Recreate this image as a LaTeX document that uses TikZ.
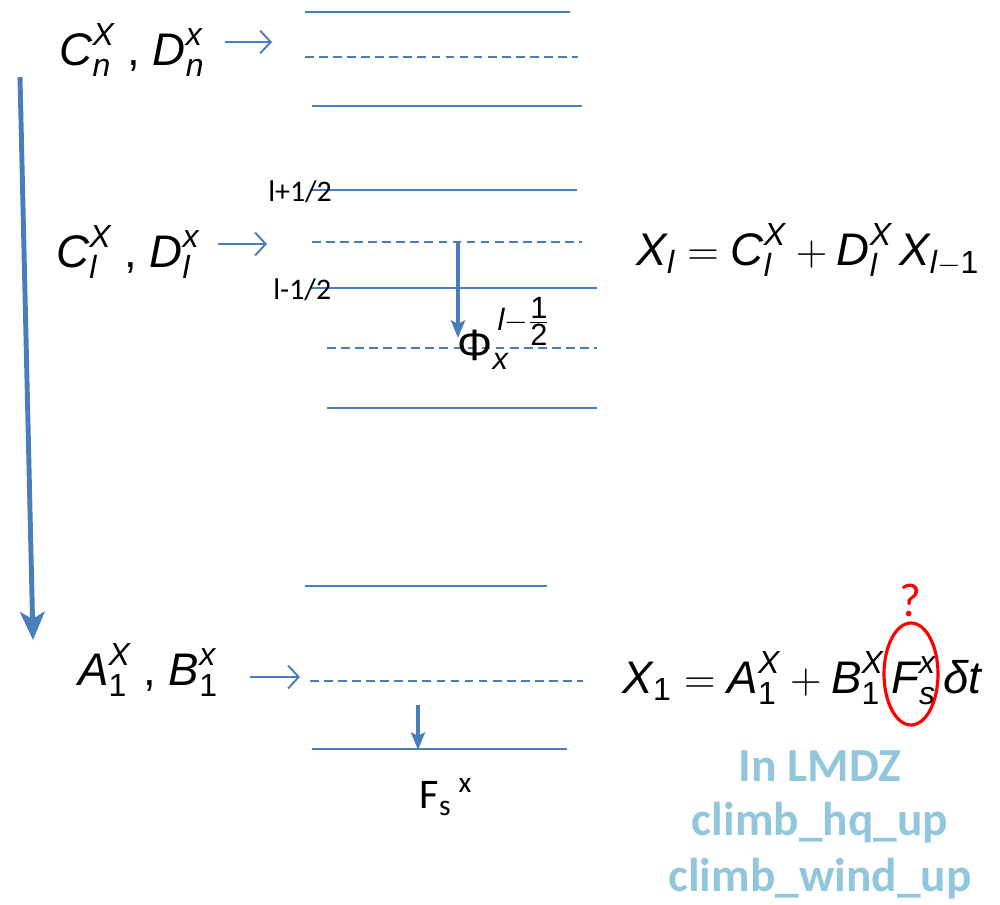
\documentclass[tikz,border=0pt]{standalone}
\usepackage{amsmath}
\usepackage{fontspec}
\setmainfont{Liberation Sans}
\newfontfamily\calibri{Carlito}
\usetikzlibrary{arrows.meta}
\definecolor{lineblue}{RGB}{74,126,187}
\definecolor{lmdzblue}{RGB}{146,199,219}
\newcommand{\iv}[1]{\textit{#1}}

\begin{document}
\begin{tikzpicture}[x=0.02cm, y=-0.02cm,
  level/.style={lineblue, line width=1pt},
  halflevel/.style={lineblue, line width=1pt, dash pattern=on 5pt off 3pt},
  feed/.style={lineblue, line width=1.1pt, -{Straight Barb[length=6pt,width=13pt]}},
  flux/.style={lineblue, line width=2.2pt, -{Stealth[length=10pt,width=8pt,inset=2pt]}},
  bigflux/.style={lineblue, line width=2.8pt, -{Stealth[length=16pt,width=14pt,inset=4pt]}},
  coef/.style={font=\fontsize{26}{30}\selectfont, inner sep=0pt},
  halflabel/.style={font=\calibri\fontsize{17}{20}\selectfont, inner sep=0pt, anchor=west},
  lmdz/.style={font=\calibri\bfseries\fontsize{27}{32}\selectfont, text=lmdzblue, inner sep=0pt}]
  \useasboundingbox (0,0) rectangle (1000,905);

  % model levels
  \draw[level] (305,12) -- (570,12);
  \draw[halflevel] (305,57) -- (578,57);
  \draw[level] (312,106) -- (582,106);
  \draw[level] (310,190) -- (577,190);
  \draw[halflevel] (312,242) -- (582,242);
  \draw[level] (310,288) -- (597,288);
  \draw[halflevel] (327,348) -- (597,348);
  \draw[level] (327,408) -- (597,408);
  \draw[level] (305,586) -- (547,586);
  \draw[halflevel] (310,681) -- (583,681);
  \draw[level] (312,749) -- (567,749);

  % coefficients
  \node[coef] (cn) at (132,50) {$\iv{C}^{\iv{X}}_{\iv{n}}$ , $\iv{D}^{\iv{x}}_{\iv{n}}$};
  \node[coef] (cl) at (128,252) {$\iv{C}^{\iv{X}}_{\iv{l}}$ , $\iv{D}^{\iv{x}}_{\iv{l}}$};
  \node[coef] (ab) at (148,670) {$\iv{A}^{\iv{X}}_{\textup{1}}$ , $\iv{B}^{\iv{x}}_{\textup{1}}$};
  \coordinate (cnfrom) at (225,42);  \coordinate (cnto) at (272,42);
  \coordinate (clfrom) at (218,244); \coordinate (clto) at (267,244);
  \coordinate (abfrom) at (250,677); \coordinate (abto) at (300,677);
  \draw[feed] (cnfrom) -- (cnto);
  \draw[feed] (clfrom) -- (clto);
  \draw[feed] (abfrom) -- (abto);

  % downward sweep
  \coordinate (sweeptop) at (20,77);
  \coordinate (sweepbot) at (33,640);
  \draw[bigflux] (sweeptop) -- (sweepbot);

  % half levels and fluxes
  \node[halflabel] (lup) at (268,192) {l+1/2};
  \node[halflabel] (ldown) at (273,290) {l-1/2};
  \coordinate (phifrom) at (458,243); \coordinate (phito) at (458,338);
  \draw[flux] (phifrom) -- (phito);
  \node[font=\fontsize{25}{28}\selectfont, inner sep=0pt] (phi) at (504,333)
    {$\textup{Φ}_{\iv{x}}^{\,\iv{l}-\frac{\scriptstyle\textup{1}}{\scriptstyle\textup{2}}}$};
  \coordinate (fsfrom) at (418,705); \coordinate (fsto) at (418,750);
  \draw[flux] (fsfrom) -- (fsto);
  \node[font=\calibri\fontsize{24}{28}\selectfont, inner sep=0pt] (fs) at (446,797)
    {F\textsubscript{s}\,\textsuperscript{x}};

  % equations
  \node[coef] (eql) at (808,250)
    {$\iv{X}_{\iv{l}} = \iv{C}^{\iv{X}}_{\iv{l}} + \iv{D}^{\iv{X}}_{\iv{l}}\,\iv{X}_{\iv{l}-\textup{1}}$};
  \node[coef] (eqone) at (802,678)
    {$\iv{X}_{\textup{1}} = \iv{A}^{\iv{X}}_{\textup{1}} + \iv{B}^{\iv{X}}_{\textup{1}}\,\iv{F}^{\iv{x}}_{\iv{s}}\,\iv{δt}$};
  \draw[red, line width=1.8pt] (911,674) ellipse [x radius=27, y radius=51];
  \node[font=\calibri\fontsize{27}{30}\selectfont, text=red, inner sep=0pt] (query) at (910,600) {?};

  % LMDZ routines
  \node[lmdz] (inlmdz) at (820,766) {In LMDZ};
  \node[lmdz] (hq) at (820,823) {climb\_hq\_up};
  \node[lmdz] (wind) at (820,879) {climb\_wind\_up};
\end{tikzpicture}
\end{document}
